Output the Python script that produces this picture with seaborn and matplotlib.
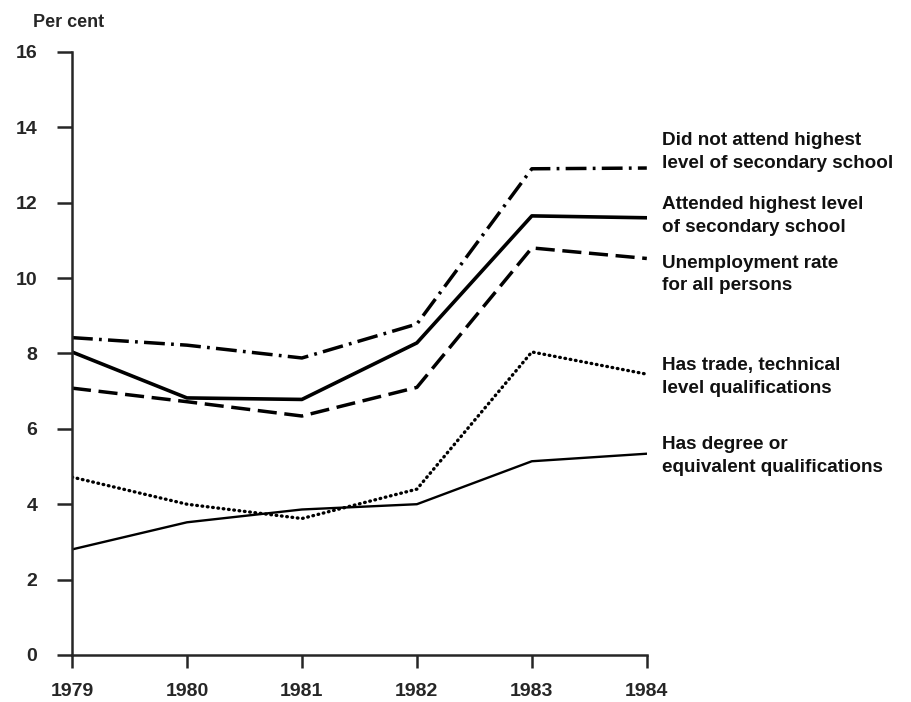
import numpy as np
import pandas as pd
import seaborn as sns
import matplotlib.pyplot as plt

# data
years = [1979, 1980, 1981, 1982, 1983, 1984]
did_not_attend = [8.42, 8.22, 7.88, 8.78, 12.9, 12.92]
attended = [8.04, 6.82, 6.78, 8.28, 11.65, 11.6]
all_persons = [7.08, 6.72, 6.34, 7.1, 10.8, 10.52]
trade_technical = [4.72, 4.0, 3.62, 4.4, 8.04, 7.45]
degree = [2.8, 3.52, 3.86, 4.0, 5.14, 5.34]

labels = ['Did not attend highest\nlevel of secondary school',
          'Attended highest level\nof secondary school',
          'Unemployment rate\nfor all persons',
          'Has trade, technical\nlevel qualifications',
          'Has degree or\nequivalent qualifications']
label_y = [13.35, 11.65, 10.1, 7.38, 5.28]

sns.set_style('ticks')
plt.rcParams['font.family'] = ['Liberation Sans', 'DejaVu Sans']

fig = plt.figure(figsize=(9.11, 7.02), dpi=100)
ax = fig.add_axes([0.079, 0.067, 0.631, 0.859])

styles = [
    (did_not_attend, dict(lw=2.5, dashes=(6, 1.8, 0.8, 1.8))),
    (attended, dict(lw=2.6)),
    (all_persons, dict(lw=2.5, dashes=(5.5, 2.2))),
    (trade_technical, dict(lw=2.4, dashes=(0.2, 1.4), dash_capstyle='round')),
    (degree, dict(lw=1.7)),
]
for vals, kw in styles:
    sns.lineplot(x=years, y=vals, ax=ax, color='black', **kw)

for txt, yy in zip(labels, label_y):
    ax.text(1984.13, yy, txt, va='center', ha='left', fontsize=13.6,
            fontweight='bold', color='#111111', linespacing=1.42, clip_on=False)

ax.set_xlim(1979, 1984)
ax.set_ylim(0, 16)
ax.set_xticks(years)
ax.set_yticks(range(0, 17, 2))
ax.tick_params(axis='y', length=11, width=1.8, pad=14, labelsize=14)
ax.tick_params(axis='x', length=9, width=1.8, pad=11, labelsize=14)
for lab in ax.get_xticklabels() + ax.get_yticklabels():
    lab.set_fontweight('bold')
for s in ['left', 'bottom']:
    ax.spines[s].set_linewidth(1.8)
sns.despine(ax=ax)

fig.text(0.036, 0.968, 'Per cent', fontsize=13, fontweight='bold', va='center')

fig.savefig('out.png', dpi=100)
